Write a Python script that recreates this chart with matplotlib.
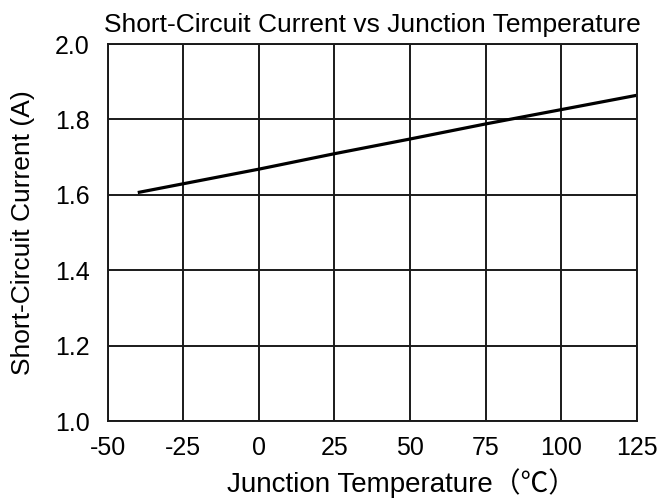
import matplotlib.pyplot as plt

# Short-circuit current vs junction temperature
temperature = [-40, 0, 25, 50, 75, 100, 125]
current = [1.606, 1.668, 1.709, 1.748, 1.788, 1.826, 1.864]

x_ticks = [-50, -25, 0, 25, 50, 75, 100, 125]
y_ticks = [1.0, 1.2, 1.4, 1.6, 1.8, 2.0]

plt.rcParams['font.family'] = ['Liberation Sans', 'Noto Sans CJK SC', 'DejaVu Sans']
plt.rcParams['axes.unicode_minus'] = False

fig = plt.figure(figsize=(6.62, 5.03), dpi=100)
ax = fig.add_axes([0.1624, 0.163, 0.7996, 0.7495])

ax.plot(temperature, current, color='black', linewidth=2.3, solid_capstyle='butt')

ax.set_xlim(-50, 125)
ax.set_ylim(1.0, 2.0)
ax.set_xticks(x_ticks)
ax.set_yticks(y_ticks)
ax.set_xticklabels([str(v) for v in x_ticks])
ax.set_yticklabels([f'{v:.1f}' for v in y_ticks])
ax.grid(True, color='#1a1a1a', linewidth=1.4)
ax.set_axisbelow(True)
for s in ax.spines.values():
    s.set_color('#1a1a1a')
    s.set_linewidth(1.4)
ax.tick_params(axis='x', length=0, labelsize=18, pad=11)
ax.tick_params(axis='y', length=0, labelsize=18, pad=13)

ax.set_title('Short-Circuit Current vs Junction Temperature', fontsize=19, pad=9)
ax.set_xlabel('Junction Temperature（℃）', fontsize=20)
ax.xaxis.set_label_coords(0.556, -0.125)
ax.set_ylabel('Short-Circuit Current (A)', fontsize=19, labelpad=14)

fig.savefig('out.png', dpi=100)
